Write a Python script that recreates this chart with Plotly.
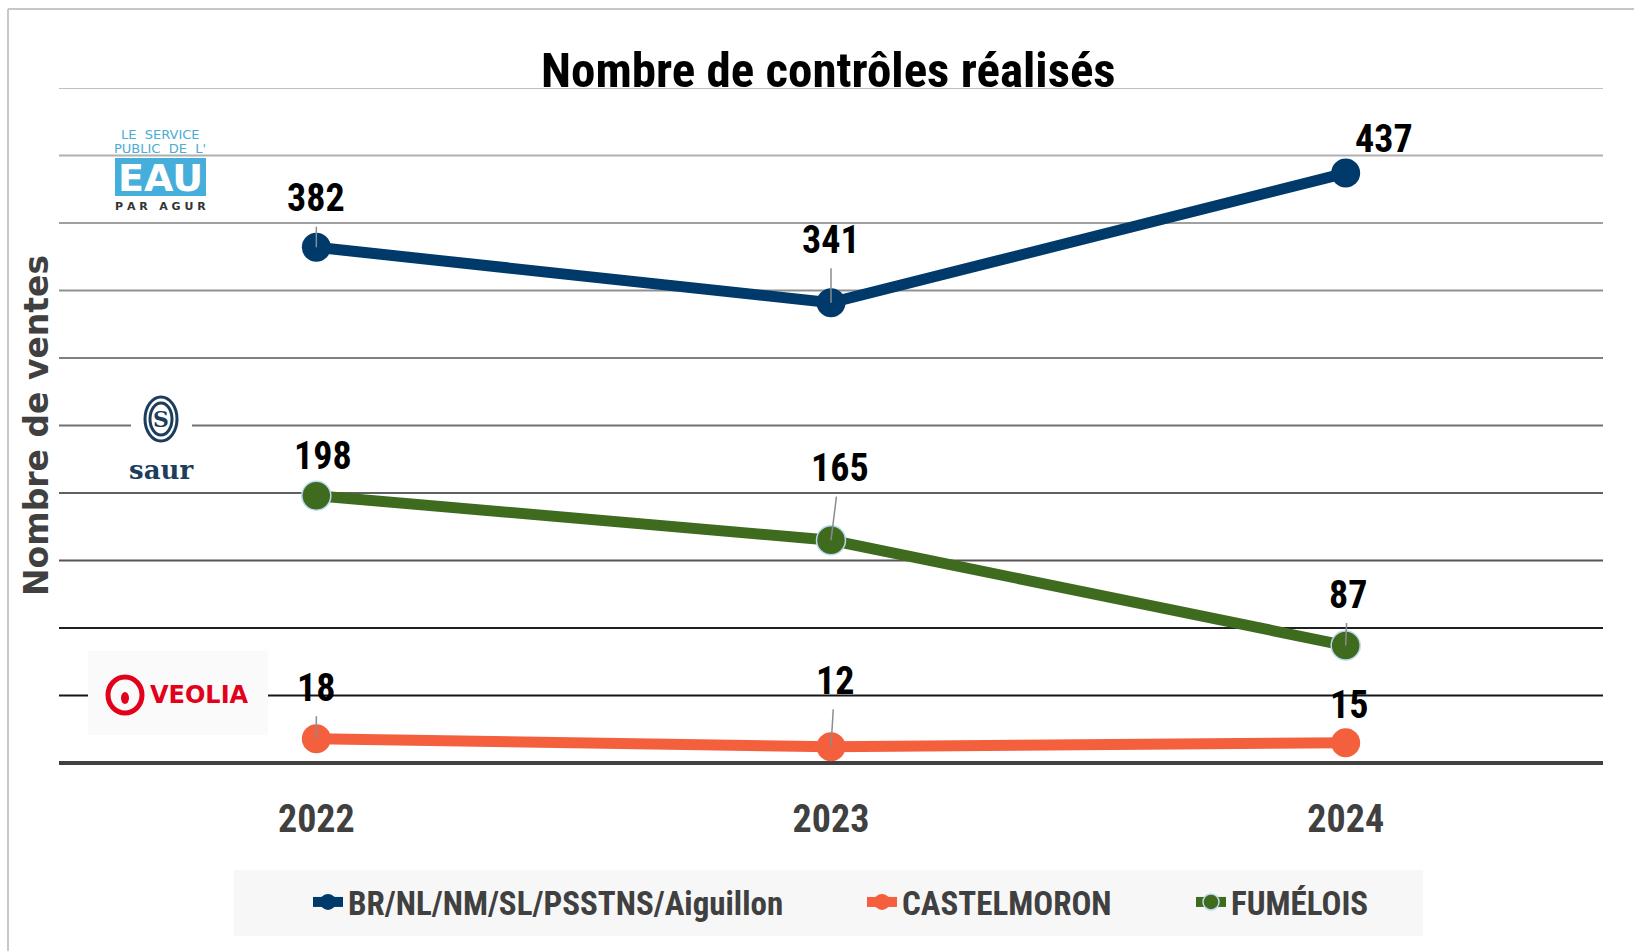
import plotly.graph_objects as go

# ---------------- data ----------------
years = ["2022", "2023", "2024"]
series_names = ["BR/NL/NM/SL/PSSTNS/Aiguillon", "CASTELMORON", "FUMÉLOIS"]
agur_values = [382, 341, 437]
castelmoron_values = [18, 12, 15]
fumelois_values = [198, 165, 87]
title_text = "Nombre de contrôles réalisés"
y_title = "Nombre de ventes"

# ---------------- style ----------------
W, H = 1634, 951
L, R, T, B = 59, 1603, 88, 763          # plot area in pixels
NARROW = "Liberation Sans Narrow, Arial Narrow, Roboto Condensed, Liberation Sans, sans-serif"
WIDE = "DejaVu Sans, Verdana, sans-serif"
navy, orange, green = "#003a6b", "#f4603e", "#3e6b1e"


def px(x):
    return (x - L) / (R - L)


def py(y):
    return (B - y) / (B - T)


fig = go.Figure()

series = [
    (series_names[0], agur_values, navy, dict(width=0), "legend"),
    (series_names[1], castelmoron_values, orange, dict(width=0), "legend2"),
    (series_names[2], fumelois_values, green, dict(width=1.5, color="#bdd7ee"), "legend3"),
]
for name, vals, col, mline, leg in series:
    fig.add_trace(go.Scatter(
        x=years, y=vals, name=name, mode="lines+markers",
        line=dict(color=col, width=11),
        marker=dict(size=29, color=col, line=mline),
        legend=leg, hoverinfo="skip",
    ))

# ---------------- gridlines (shapes, graded colours) ----------------
grid_vals = list(range(50, 501, 50))
grid_cols = ["#161616", "#202020", "#555555", "#606060", "#707070",
             "#808080", "#909090", "#a0a0a0", "#b0b0b0", "#c0c0c0"]
shapes = []
for v, c in zip(grid_vals, grid_cols):
    shapes.append(dict(type="line", xref="paper", yref="y", x0=0, x1=1, y0=v, y1=v,
                       line=dict(color=c, width=2), layer="below"))
# baseline (value 0 = bottom of plot area)
shapes.append(dict(type="line", xref="paper", yref="paper", x0=0, x1=1, y0=0, y1=0,
                   line=dict(color="#404040", width=4), layer="below"))

# frame lines
shapes.append(dict(type="line", xref="paper", yref="paper", x0=px(8), x1=px(W), y0=py(9), y1=py(9),
                   line=dict(color="#c8c8c8", width=2), layer="below"))
shapes.append(dict(type="line", xref="paper", yref="paper", x0=px(8), x1=px(8), y0=py(9), y1=py(H),
                   line=dict(color="#c8c8c8", width=2), layer="below"))

# legend background
shapes.append(dict(type="rect", xref="paper", yref="paper", x0=px(234), x1=px(1423), y0=py(870), y1=py(936),
                   fillcolor="#f7f7f7", line=dict(width=0), layer="below"))

# logo backgrounds (cover gridlines)
shapes.append(dict(type="rect", xref="paper", yref="paper", x0=px(131), x1=px(192), y0=py(393), y1=py(484),
                   fillcolor="white", line=dict(width=0), layer="below"))
shapes.append(dict(type="rect", xref="paper", yref="paper", x0=px(88), x1=px(268), y0=py(651), y1=py(735),
                   fillcolor="#fafafa", line=dict(width=0), layer="below"))
# EAU box
shapes.append(dict(type="rect", xref="paper", yref="paper", x0=px(115), x1=px(206), y0=py(158), y1=py(196),
                   fillcolor="#45aedb", line=dict(width=0), layer="above"))
# saur arcs
for (x0, x1, y0, y1, w) in [(145, 177, 397, 441, 3), (150, 172, 403, 435, 3)]:
    shapes.append(dict(type="circle", xref="paper", yref="paper", x0=px(x0), x1=px(x1), y0=py(y0), y1=py(y1),
                       line=dict(color="#1d3d5c", width=w), layer="above"))
# veolia ring
shapes.append(dict(type="circle", xref="paper", yref="paper", x0=px(108), x1=px(142), y0=py(677), y1=py(713),
                   line=dict(color="#e2001a", width=5), layer="above"))
shapes.append(dict(type="circle", xref="paper", yref="paper", x0=px(121), x1=px(129), y0=py(692), y1=py(704),
                   fillcolor="#e2001a", line=dict(width=0), layer="above"))

# ---------------- annotations ----------------
ann = []
# data labels: (trace values, index, dx, dy, leader?)
label_specs = [
    (agur_values, 0, 0, -49, True), (agur_values, 1, 0, -63, True), (agur_values, 2, 38, -34, False),
    (fumelois_values, 0, 7, -40, False), (fumelois_values, 1, 9, -72, True), (fumelois_values, 2, 2, -51, True),
    (castelmoron_values, 0, 0, -51, True), (castelmoron_values, 1, 4, -66, True), (castelmoron_values, 2, 3, -38, False),
]
for vals, i, dx, dy, lead in label_specs:
    ann.append(dict(
        x=i, y=vals[i], xref="x", yref="y", text=str(vals[i]),
        showarrow=True, ax=dx, ay=dy, arrowhead=0, arrowwidth=1.5,
        arrowcolor="#8c8c8c" if lead else "rgba(0,0,0,0)",
        standoff=0, startstandoff=5,
        font=dict(family=NARROW, size=38, color="black", weight="bold"),
    ))


def paper_text(x, y, text, **font):
    return dict(x=px(x), y=py(y), xref="paper", yref="paper", text=text, showarrow=False,
                xanchor="center", yanchor="middle", font=font)


# title
ann.append(paper_text(828, 70, title_text, family=NARROW, size=49, color="black", weight="bold"))
# y title
yt = paper_text(36, 426, y_title, family=WIDE, size=33, color="#404040", weight="bold")
yt["textangle"] = -90
ann.append(yt)

# EAU logo texts
ann.append(paper_text(160, 135, "LE  SERVICE", family=WIDE, size=13, color="#4bacd6"))
ann.append(paper_text(160, 149, "PUBLIC  DE  L'", family=WIDE, size=13, color="#4bacd6"))
ann.append(paper_text(160, 178, "EAU", family=WIDE, size=38, color="white", weight="bold"))
ann.append(paper_text(160, 206, "P A R   A G U R", family=WIDE, size=11, color="#333333", weight="bold"))
# saur
ann.append(paper_text(161, 419, "S", family="DejaVu Serif, serif", size=22, color="#1d3d5c", weight="bold"))
ann.append(paper_text(161, 470, "saur", family="DejaVu Serif, serif", size=26, color="#1d3d5c", weight="bold"))
# veolia
ann.append(paper_text(199, 695, "VEOLIA", family=WIDE, size=24, color="#e2001a", weight="bold"))

legend_font = dict(family=NARROW, size=33, color="#404040", weight="bold")
leg_y = py(902)

fig.update_layout(
    width=W, height=H,
    margin=dict(l=L, r=W - R, t=T, b=H - B, pad=0),
    paper_bgcolor="white", plot_bgcolor="white",
    showlegend=True,
    xaxis=dict(type="category", range=[-0.5, 2.5], showgrid=False, zeroline=False, showline=False,
               ticks="", ticklabelstandoff=30,
               tickfont=dict(family=NARROW, size=38, color="#404040", weight="bold")),
    yaxis=dict(range=[0, 500], showgrid=False, zeroline=False, showline=False, showticklabels=False,
               ticks=""),
    legend=dict(x=px(308), y=leg_y, xanchor="left", yanchor="middle", orientation="h",
                bgcolor="rgba(0,0,0,0)", font=legend_font),
    legend2=dict(x=px(862), y=leg_y, xanchor="left", yanchor="middle", orientation="h",
                 bgcolor="rgba(0,0,0,0)", font=legend_font),
    legend3=dict(x=px(1191), y=leg_y, xanchor="left", yanchor="middle", orientation="h",
                 bgcolor="rgba(0,0,0,0)", font=legend_font),
    shapes=shapes,
    annotations=ann,
)

fig.write_html("out.html", config={"displayModeBar": False},
               post_script="document.body.style.margin='0';")
